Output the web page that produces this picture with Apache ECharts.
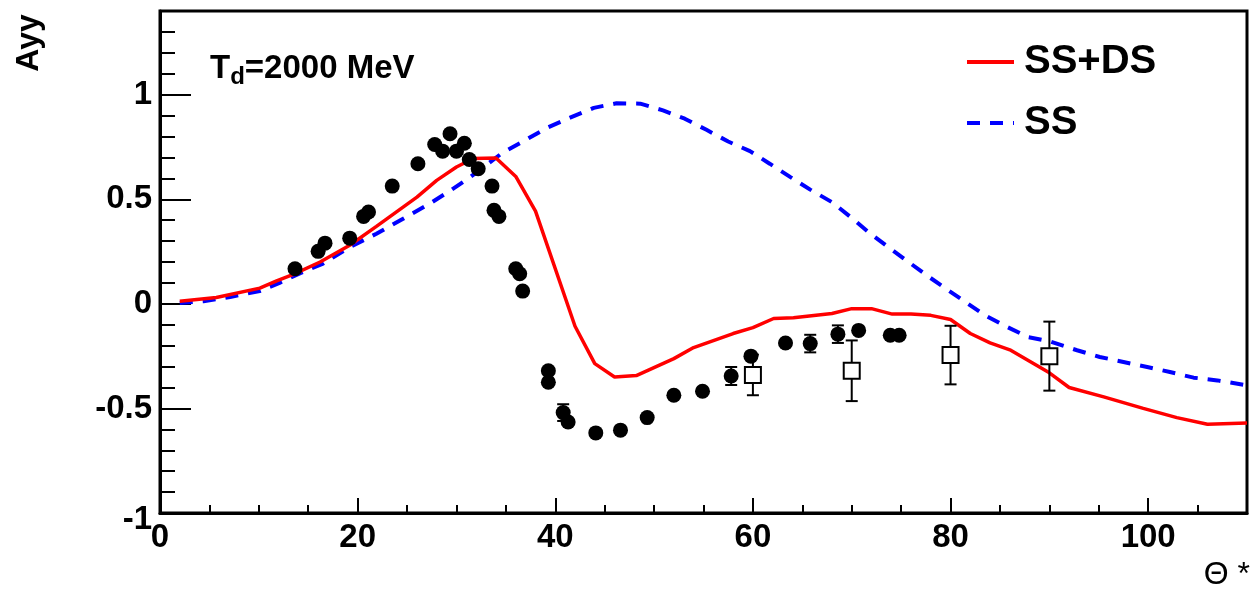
<!DOCTYPE html>
<html>
<head>
<meta charset="utf-8">
<script src="https://cdn.jsdelivr.net/npm/echarts@6/dist/echarts.min.js"></script>
<style>
html,body{margin:0;padding:0;background:#fff;}
#chart{width:1254px;height:590px;}
</style>
</head>
<body>
<div id="chart"></div>
<script>
// Data points (filled circles)
const dataX = [13.66, 16.0, 16.7, 19.2, 20.6, 21.1, 23.5, 26.1, 27.8, 28.6, 29.35, 30.0, 30.8, 31.3, 32.2, 33.6, 33.8, 34.3, 36.0, 36.4, 36.7, 39.3, 39.3, 40.8, 41.3, 44.1, 46.6, 49.3, 52.0, 54.9, 57.8, 59.8, 63.3, 65.8, 68.6, 70.7, 73.9, 74.8];
const dataY = [0.168, 0.251, 0.29, 0.314, 0.418, 0.439, 0.563, 0.67, 0.762, 0.73, 0.813, 0.73, 0.768, 0.69, 0.646, 0.563, 0.447, 0.418, 0.168, 0.144, 0.061, -0.32, -0.375, -0.52, -0.565, -0.617, -0.604, -0.544, -0.437, -0.418, -0.345, -0.25, -0.187, -0.19, -0.145, -0.127, -0.15, -0.15];
const dataErr = [0, 0, 0, 0, 0, 0, 0, 0, 0, 0, 0, 0, 0, 0, 0, 0, 0, 0, 0, 0, 0, 0, 0, 0.04, 0, 0, 0, 0, 0, 0, 0.043, 0, 0, 0.042, 0.042, 0, 0, 0];

// Data points (open squares)
const sqX = [60, 70, 80, 90];
const sqY = [-0.34, -0.32, -0.245, -0.25];
const sqErr = [0.097, 0.145, 0.14, 0.165];

// SS+DS curve
const redX = [2, 5.7, 10.1, 11.8, 13.5, 16.2, 19.2, 21.9, 26, 28, 30, 31.7, 34, 36, 38, 42, 44, 46, 48.2, 52, 54, 58, 60, 62.1, 64.1, 68, 70, 72, 74.1, 76, 78, 80, 82, 84, 86, 88, 90, 92, 95.5, 99.5, 102.9, 106, 110];
const redY = [0.012, 0.03, 0.075, 0.11, 0.141, 0.2, 0.28, 0.37, 0.51, 0.59, 0.654, 0.695, 0.697, 0.609, 0.443, -0.107, -0.286, -0.35, -0.343, -0.262, -0.209, -0.142, -0.114, -0.07, -0.067, -0.046, -0.023, -0.023, -0.049, -0.049, -0.055, -0.075, -0.142, -0.187, -0.22, -0.275, -0.33, -0.40, -0.445, -0.50, -0.544, -0.576, -0.57];

// SS curve
const blueX = [2, 4.4, 7.1, 10.1, 12.1, 14.2, 16.5, 19.2, 21.9, 24.6, 27.3, 29.4, 31.4, 34.6, 36.8, 39.1, 41.5, 43.9, 46.2, 48.6, 50.9, 53.1, 55.3, 57.5, 59.7, 61.7, 63.8, 65.8, 68.0, 69.8, 71.7, 73.7, 75.6, 77.6, 79.5, 81.5, 83.5, 85.7, 87.9, 90.1, 92.8, 95.1, 97.5, 99.9, 102.2, 104.6, 107, 110];
const blueY = [0.004, 0.012, 0.033, 0.061, 0.10, 0.147, 0.192, 0.271, 0.335, 0.407, 0.479, 0.542, 0.606, 0.72, 0.778, 0.84, 0.89, 0.937, 0.959, 0.957, 0.925, 0.885, 0.832, 0.776, 0.73, 0.67, 0.606, 0.546, 0.486, 0.418, 0.343, 0.271, 0.205, 0.136, 0.073, 0.009, -0.055, -0.11, -0.16, -0.18, -0.222, -0.254, -0.278, -0.302, -0.326, -0.353, -0.366, -0.39];

// Axis ticks
const xMin = 0, xMax = 110, xMajor = 20, xMinor = 5;
const yMin = -1, yMax = 1.4, yMajor = 0.5, yMinor = 0.1;

const FONT = '"Liberation Sans", Arial, Helvetica, sans-serif';

const zip = (a, b, c) => a.map((v, i) => c ? [v, b[i], c[i]] : [v, b[i]]);

function errRender(params, api) {
  const x = api.value(0), y = api.value(1), e = api.value(2);
  if (!e) return null;
  const p1 = api.coord([x, y + e]);
  const p2 = api.coord([x, y - e]);
  const cap = 6;
  const style = {stroke: '#000', lineWidth: 2, fill: null};
  return {
    type: 'group',
    children: [
      {type: 'line', shape: {x1: p1[0], y1: p1[1], x2: p2[0], y2: p2[1]}, style: style},
      {type: 'line', shape: {x1: p1[0] - cap, y1: p1[1], x2: p1[0] + cap, y2: p1[1]}, style: style},
      {type: 'line', shape: {x1: p2[0] - cap, y1: p2[1], x2: p2[0] + cap, y2: p2[1]}, style: style}
    ]
  };
}

const axisFont = {fontFamily: FONT, fontSize: 33, fontWeight: 'bold', color: '#000'};

const chart = echarts.init(document.getElementById('chart'), null, {renderer: 'canvas'});
chart.setOption({
  animation: false,
  backgroundColor: '#fff',
  grid: {left: 160, right: 7, top: 11, bottom: 77, show: true, borderColor: '#000', borderWidth: 3, backgroundColor: 'transparent'},
  title: {
    left: 205, top: 44,
    text: '{a|T}{b|d}{a|=2000 MeV}',
    textStyle: {
      rich: {
        a: {fontFamily: FONT, fontSize: 33, fontWeight: 'bold', color: '#000', lineHeight: 40},
        b: {fontFamily: FONT, fontSize: 24, fontWeight: 'bold', color: '#000', lineHeight: 14, verticalAlign: 'bottom'}
      }
    }
  },
  legend: {
    orient: 'vertical', left: 960, top: 37,
    itemWidth: 47, itemHeight: 14, itemGap: 21,
    data: ['SS+DS', 'SS'],
    itemStyle: {opacity: 0},
    lineStyle: {width: 4},
    textStyle: {fontFamily: FONT, fontSize: 40, fontWeight: 'bold', color: '#000', padding: [0, 0, 0, 5]}
  },
  graphic: [
    {type: 'text', x: 29, y: 43, rotation: Math.PI / 2,
     style: {text: 'Ayy', font: 'bold 32px ' + FONT, fill: '#000', align: 'center', verticalAlign: 'middle'}},
    {type: 'text', right: 4, top: 559,
     style: {text: 'Θ *', font: '32px ' + FONT, fill: '#000'}}
  ],
  xAxis: [
    {type: 'value', min: xMin, max: xMax, interval: xMajor, position: 'bottom',
     axisLine: {show: true, onZero: false, lineStyle: {color: '#000', width: 3}},
     axisTick: {show: true, inside: true, length: 15, lineStyle: {color: '#000', width: 2}},
     axisLabel: Object.assign({margin: 8, showMaxLabel: false}, axisFont),
     splitLine: {show: false}},
    {type: 'value', min: xMin, max: xMax, interval: xMinor, position: 'bottom',
     axisLine: {show: false, onZero: false},
     axisTick: {show: true, inside: true, length: 8, lineStyle: {color: '#000', width: 2}},
     axisLabel: {show: false}, splitLine: {show: false}}
  ],
  yAxis: [
    {type: 'value', min: yMin, max: yMax, interval: yMajor, position: 'left',
     axisLine: {show: true, onZero: false, lineStyle: {color: '#000', width: 3}},
     axisTick: {show: true, inside: true, length: 31, lineStyle: {color: '#000', width: 2}},
     axisLabel: Object.assign({
       margin: 8, showMaxLabel: false,
       formatter: v => v === yMin ? '{low|' + v + '}' : String(v),
       rich: {low: Object.assign({padding: [14, 0, 0, 0]}, axisFont)}
     }, axisFont),
     splitLine: {show: false}},
    {type: 'value', min: yMin, max: yMax, interval: yMinor, position: 'left',
     axisLine: {show: false, onZero: false},
     axisTick: {show: true, inside: true, length: 15, lineStyle: {color: '#000', width: 2}},
     axisLabel: {show: false}, splitLine: {show: false}}
  ],
  series: [
    {name: 'SS', type: 'line', data: zip(blueX, blueY), symbol: 'none', z: 2,
     lineStyle: {color: '#0000ff', width: 4, type: [13, 10]}, itemStyle: {color: '#0000ff'}},
    {name: 'SS+DS', type: 'line', data: zip(redX, redY), symbol: 'none', z: 3,
     lineStyle: {color: '#ff0000', width: 3.5}, itemStyle: {color: '#ff0000'}},
    {name: 'errC', type: 'custom', data: zip(dataX, dataY, dataErr), renderItem: errRender, z: 4},
    {name: 'errS', type: 'custom', data: zip(sqX, sqY, sqErr), renderItem: errRender, z: 4},
    {name: 'circles', type: 'scatter', data: zip(dataX, dataY), symbol: 'circle', symbolSize: 15, z: 5,
     itemStyle: {color: '#000', opacity: 1}},
    {name: 'squares', type: 'scatter', data: zip(sqX, sqY), symbol: 'rect', symbolSize: 16, z: 6,
     itemStyle: {color: '#fff', borderColor: '#000', borderWidth: 2, opacity: 1}}
  ]
});
</script>
</body>
</html>
